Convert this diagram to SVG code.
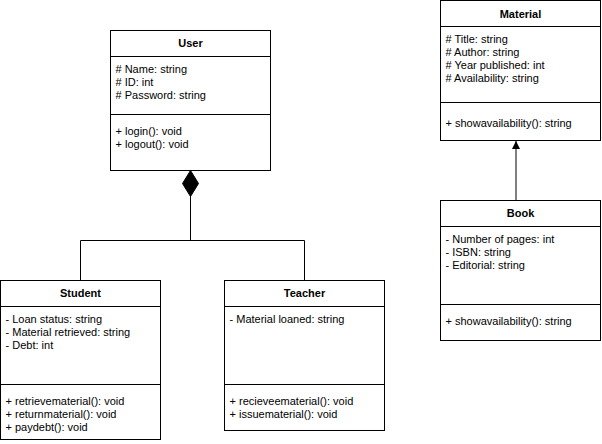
<svg xmlns="http://www.w3.org/2000/svg" width="602" height="444" viewBox="0 0 602 444">
  <style>
    .box { fill: #ffffff; stroke: #000000; stroke-width: 1; }
    .sep { stroke: #000000; stroke-width: 1; fill: none; }
    .title { font-family: "Liberation Sans", Arial, Helvetica, sans-serif; font-size: 11px; font-weight: bold; fill: #000000; text-anchor: middle; }
    .item { font-family: "Liberation Sans", Arial, Helvetica, sans-serif; font-size: 11px; fill: #000000; }
    .edge { stroke: #000000; stroke-width: 1; fill: none; }
  </style>
  <defs>
    <marker id="block" markerWidth="8" markerHeight="8" viewBox="0 0 8 8" refX="8" refY="4" orient="auto" markerUnits="userSpaceOnUse">
      <path d="M0,0 L8,4 L0,8 Z" fill="#000000"/>
    </marker>
  </defs>

  <rect width="602" height="444" fill="#ffffff"/>

  <!-- connectors -->
  <g id="connectors">
    <!-- composition: User owns Student and Teacher -->
    <path class="edge" d="M190.5,196 L190.5,240.5 M80.5,240.5 L304.5,240.5 M80.5,240.5 L80.5,280.5 M304.5,240.5 L304.5,280.5"/>
    <path d="M190.5,170.5 L198.5,183.5 L190.5,196.5 L182.5,183.5 Z" fill="#000000" stroke="#000000" stroke-width="1"/>
    <!-- generalization: Book to Material -->
    <path class="edge" d="M516,200 L516,141" marker-end="url(#block)"/>
  </g>

  <!-- User -->
  <g id="user">
    <rect class="box" x="110.5" y="30.5" width="160" height="140"/>
    <path class="sep" d="M110.5,56.5 H270.5 M110.5,114.5 H270.5"/>
    <text class="title" x="190.5" y="47">User</text>
    <text class="item" x="115.5" y="73">
      <tspan x="115.5" y="73"># Name: string</tspan>
      <tspan x="115.5" y="86"># ID: int</tspan>
      <tspan x="115.5" y="99"># Password: string</tspan>
    </text>
    <text class="item" x="115.5" y="135">
      <tspan x="115.5" y="135">+ login(): void</tspan>
      <tspan x="115.5" y="148">+ logout(): void</tspan>
    </text>
  </g>

  <!-- Student -->
  <g id="student">
    <rect class="box" x="0.5" y="280.5" width="160" height="159"/>
    <path class="sep" d="M0.5,306.5 H160.5 M0.5,384.5 H160.5"/>
    <text class="title" x="80.5" y="297">Student</text>
    <text class="item" x="5.5" y="323">
      <tspan x="5.5" y="323">- Loan status: string</tspan>
      <tspan x="5.5" y="336">- Material retrieved: string</tspan>
      <tspan x="5.5" y="349">- Debt: int</tspan>
    </text>
    <text class="item" x="5.5" y="405">
      <tspan x="5.5" y="405">+ retrievematerial(): void</tspan>
      <tspan x="5.5" y="418">+ returnmaterial(): void</tspan>
      <tspan x="5.5" y="431">+ paydebt(): void</tspan>
    </text>
  </g>

  <!-- Teacher -->
  <g id="teacher">
    <rect class="box" x="224.5" y="280.5" width="160" height="150"/>
    <path class="sep" d="M224.5,306.5 H384.5 M224.5,384.5 H384.5"/>
    <text class="title" x="304.5" y="297">Teacher</text>
    <text class="item" x="229.5" y="323">- Material loaned: string</text>
    <text class="item" x="229.5" y="405">
      <tspan x="229.5" y="405">+ recieveematerial(): void</tspan>
      <tspan x="229.5" y="418">+ issuematerial(): void</tspan>
    </text>
  </g>

  <!-- Material -->
  <g id="material">
    <rect class="box" x="440.5" y="0.5" width="160" height="140"/>
    <path class="sep" d="M440.5,26.5 H600.5 M440.5,102.5 H600.5"/>
    <text class="title" x="520.5" y="18">Material</text>
    <text class="item" x="445.5" y="43">
      <tspan x="445.5" y="43"># Title: string</tspan>
      <tspan x="445.5" y="56"># Author: string</tspan>
      <tspan x="445.5" y="69"># Year published: int</tspan>
      <tspan x="445.5" y="82"># Availability: string</tspan>
    </text>
    <text class="item" x="445.5" y="127">+ showavailability(): string</text>
  </g>

  <!-- Book -->
  <g id="book">
    <rect class="box" x="440.5" y="200.5" width="160" height="140"/>
    <path class="sep" d="M440.5,226.5 H600.5 M440.5,304.5 H600.5"/>
    <text class="title" x="520.5" y="217">Book</text>
    <text class="item" x="445.5" y="243">
      <tspan x="445.5" y="243">- Number of pages: int</tspan>
      <tspan x="445.5" y="256">- ISBN: string</tspan>
      <tspan x="445.5" y="269">- Editorial: string</tspan>
    </text>
    <text class="item" x="445.5" y="325">+ showavailability(): string</text>
  </g>
</svg>
